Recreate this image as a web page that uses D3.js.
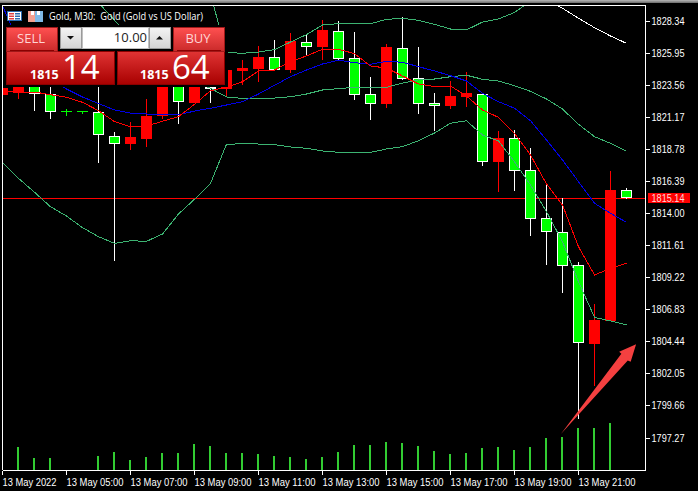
<!DOCTYPE html>
<meta charset="utf-8">
<style>
html, body { margin: 0; padding: 0; background: #000; overflow: hidden; }
svg { display: block; }
.axis text { fill: #fff; font: 11px "Liberation Sans", sans-serif; }
.axis line, .axis path { stroke: #fff; shape-rendering: crispEdges; }
.band { fill: none; stroke-width: 1; shape-rendering: crispEdges; }
.panel text { font-family: "Open Sans", sans-serif; }
</style>
<svg width="698" height="491"></svg>
<script src="https://d3js.org/d3.v7.min.js"></script>
<script>
// M30 bars of 13 May 2022, 03:00 to 22:30
const hours = d3.range(3, 23, 0.5);
const opens = [1822.86,1823.01,1824.13,1822.93,1821.63,1821.63,1821.59,1819.80,1819.20,1819.57,1821.29,1824.35,1822.26,1823.45,1823.30,1824.65,1824.80,1825.69,1824.72,1826.81,1826.44,1827.63,1825.62,1822.93,1822.19,1826.36,1824.13,1822.26,1822.04,1822.71,1822.93,1817.86,1819.65,1817.26,1813.68,1812.64,1810.18,1804.28,1806.00,1815.77];
const highs = [1823.98,1824.35,1824.72,1823.98,1821.81,1821.63,1824.35,1820.10,1820.84,1822.56,1824.72,1824.72,1824.72,1824.72,1824.72,1825.47,1826.51,1826.96,1827.48,1827.41,1828.45,1828.38,1827.56,1824.20,1826.66,1828.68,1826.44,1823.01,1823.90,1824.57,1822.93,1820.17,1820.25,1818.90,1816.14,1815.17,1810.40,1807.27,1817.19,1815.92];
const lows = [1822.86,1822.56,1821.66,1821.07,1821.29,1821.44,1817.75,1810.47,1818.75,1818.98,1821.07,1820.69,1822.26,1822.26,1822.71,1823.60,1823.83,1824.72,1824.50,1825.77,1825.47,1825.47,1822.48,1820.99,1821.89,1823.98,1821.44,1820.17,1821.81,1821.96,1817.56,1815.62,1815.70,1812.34,1810.18,1808.09,1798.69,1801.15,1806.00,1815.10];
const closes = [1823.38,1823.98,1822.93,1821.59,1821.63,1821.63,1819.91,1819.20,1819.72,1821.29,1824.35,1822.30,1824.35,1823.27,1824.72,1824.87,1825.69,1824.72,1826.89,1826.44,1827.71,1825.54,1822.86,1822.19,1826.44,1824.05,1822.19,1822.04,1822.78,1823.01,1817.86,1819.65,1817.22,1813.61,1812.60,1810.10,1804.36,1806.07,1815.77,1815.14];
const volumes = [0,230,120,120,0,0,140,180,100,130,170,170,260,240,170,170,160,140,130,110,130,180,250,250,280,270,240,190,160,170,220,230,200,230,320,330,420,420,470,0];

const fastMa = [1823.16,1823.08,1823.08,1822.88,1822.69,1822.31,1821.69,1820.87,1820.49,1820.54,1820.90,1821.24,1822.16,1823.18,1823.43,1823.85,1824.65,1824.72,1825.34,1825.77,1826.27,1826.27,1825.94,1825.02,1824.87,1824.27,1823.68,1823.48,1823.53,1822.78,1821.74,1821.19,1820.00,1818.38,1816.22,1814.65,1811.54,1809.43,1809.93,1810.30];
const slowMa = [1829.50,1826.81,1825.32,1824.13,1823.30,1822.71,1822.22,1821.74,1821.51,1821.44,1821.40,1821.37,1821.66,1821.87,1822.11,1822.36,1822.93,1823.58,1824.22,1824.72,1825.17,1825.45,1825.27,1825.15,1825.37,1825.30,1824.97,1824.65,1824.30,1823.90,1822.98,1822.36,1821.87,1820.94,1819.50,1818.01,1816.39,1814.78,1814.03,1813.36];
const lowerBand = [1817.84,1816.64,1815.60,1814.52,1813.83,1812.96,1812.29,1811.79,1811.99,1811.94,1812.49,1813.98,1815.08,1816.27,1819.18,1819.22,1819.20,1819.15,1818.98,1818.88,1818.68,1818.58,1818.58,1818.58,1818.83,1819.00,1819.45,1820.02,1820.75,1820.94,1819.87,1819.43,1817.88,1816.14,1814.15,1811.91,1808.93,1806.27,1806.00,1805.70];
const middleBand = [null,null,null,null,null,null,null,null,null,null,null,null,1823.75,1823.36,1822.71,1822.60,1822.58,1822.63,1822.73,1822.93,1823.23,1823.33,1823.43,1823.43,1823.43,1823.75,1823.98,1824.05,1824.22,1824.33,1824.03,1823.90,1823.55,1823.13,1822.56,1821.81,1820.67,1819.75,1819.25,1818.66];
const upperBand = [null,null,null,null,null,null,null,null,null,null,null,null,null,1830.35,1826.03,1825.97,1826.06,1826.24,1826.81,1827.36,1828.08,1828.18,1828.18,1828.18,1828.50,1828.58,1828.43,1828.13,1827.78,1827.71,1828.30,1828.53,1829.01,1829.87,null,null,null,null,null,null];
const earlyBand = [null,null,null,null,null,null,1829.74,1828.44,1827.11,null,null,null,null,null,null,null,null,null,null,null,null,null,null,null,null,null,null,null,null,null,null,null,null,null,null,null,null,null,null,null];
const whiteBand = [null,null,null,null,null,null,null,null,null,null,null,null,null,null,null,null,null,null,null,null,null,null,null,null,null,null,null,null,null,null,null,null,null,null,1829.94,1829.33,1828.58,1827.88,1827.26,1826.71];

const priceTicks = [1828.34,1825.95,1823.56,1821.17,1818.78,1816.39,1814.00,1811.61,1809.22,1806.83,1804.44,1802.05,1799.66,1797.27];
const timeTicks = [3,5,7,9,11,13,15,17,19,21];
const timeLabels = ["13 May 2022","13 May 05:00","13 May 07:00","13 May 09:00","13 May 11:00","13 May 13:00","13 May 15:00","13 May 17:00","13 May 19:00","13 May 21:00"];
const lastPrice = 1815.14;

// hand drawn arrow on the chart
const arrowHours = [20.45,22.34,22.27,22.80,22.63,22.54];
const arrowPrices = [1797.57,1803.55,1803.71,1804.26,1802.96,1803.05];

var svg = d3.select("svg");
var x = d3.scaleLinear().domain([3, 22.5]).range([2.5, 626.5]);
var y = d3.scaleLinear().domain([1797.27, 1828.34]).range([438, 21.5]);
var yVol = d3.scaleLinear().domain([0, 4700]).range([470, 0]);
var ry = function(p) { return Math.round(y(p)); };

svg.append("rect").attr("width", 698).attr("height", 491).attr("fill", "#000");

var defs = svg.append("defs");
defs.append("clipPath").attr("id", "plot").append("rect")
  .attr("x", 3).attr("y", 6).attr("width", 642).attr("height", 464);
function gradient(id, c0, c1) {
  var g = defs.append("linearGradient").attr("id", id).attr("x1", 0).attr("y1", 0).attr("x2", 0).attr("y2", 1);
  g.append("stop").attr("offset", 0).attr("stop-color", c0);
  g.append("stop").attr("offset", 1).attr("stop-color", c1);
}
gradient("chrome", "#b8b8b8", "#6a6a6a");
gradient("btn", "#ff5050", "#c92a2a");
gradient("quote", "#e03434", "#a80000");
gradient("spin", "#f4f4f4", "#d4d4d4");

// window edge above the chart
svg.append("rect").attr("width", 698).attr("height", 3).attr("fill", "url(#chrome)");

var plot = svg.append("g").attr("clip-path", "url(#plot)");

// volumes
plot.selectAll(".vol").data(hours).enter().append("rect")
  .attr("class", "vol")
  .attr("x", function(d) { return x(d) - 1.5; })
  .attr("width", 2)
  .attr("y", function(d, i) { return yVol(volumes[i]); })
  .attr("height", function(d, i) { return 470 - yVol(volumes[i]); })
  .attr("fill", "#32cd32");

// last price line
plot.append("rect")
  .attr("x", 3).attr("width", 642)
  .attr("y", ry(lastPrice)).attr("height", 1)
  .attr("fill", "#f00");

// candles, red is up and green with a white edge is down
var bar = plot.selectAll(".candle").data(hours).enter().append("g").attr("class", "candle");

bar.append("rect")
  .attr("x", function(d) { return x(d) - 0.5; })
  .attr("width", 1)
  .attr("y", function(d, i) { return ry(highs[i]); })
  .attr("height", function(d, i) { return Math.max(ry(lows[i]) - ry(highs[i]), 1); })
  .attr("fill", function(d, i) {
    if (opens[i] === closes[i]) return "#0f0";
    return closes[i] > opens[i] ? "#f00" : "#fff";
  });

bar.append("rect")
  .attr("x", function(d, i) { return closes[i] > opens[i] || opens[i] === closes[i] ? x(d) - 5.5 : x(d) - 5; })
  .attr("width", function(d, i) { return closes[i] > opens[i] || opens[i] === closes[i] ? 11 : 10; })
  .attr("y", function(d, i) {
    var t = ry(Math.max(opens[i], closes[i]));
    return closes[i] < opens[i] ? t + 0.5 : t;
  })
  .attr("height", function(d, i) {
    var h = ry(Math.min(opens[i], closes[i])) - ry(Math.max(opens[i], closes[i]));
    if (opens[i] === closes[i]) return 1;
    return closes[i] < opens[i] ? Math.max(h - 1, 1) : h;
  })
  .attr("fill", function(d, i) { return closes[i] > opens[i] ? "#f00" : "#0f0"; })
  .attr("stroke", function(d, i) { return closes[i] < opens[i] ? "#fff" : "none"; })
  .attr("stroke-width", 1)
  .attr("shape-rendering", "crispEdges");

// indicator lines
var line = d3.line()
  .defined(function(d) { return d != null; })
  .x(function(d, i) { return x(hours[i]); })
  .y(function(d) { return y(d); });

[[lowerBand, "#3cb371"], [middleBand, "#3cb371"], [upperBand, "#3cb371"], [earlyBand, "#3cb371"],
 [whiteBand, "#fff"], [slowMa, "#0000e6"], [fastMa, "#f00"]].forEach(function(s) {
  plot.append("path").attr("class", "band").attr("d", line(s[0])).attr("stroke", s[1]);
});

// arrow
plot.append("path")
  .attr("d", d3.line().x(function(d) { return x(d); }).y(function(d, i) { return y(arrowPrices[i]); }).curve(d3.curveLinearClosed)(arrowHours))
  .attr("fill", "#f44040");

// axes and frame
var yAxis = svg.append("g").attr("class", "axis")
  .attr("transform", "translate(645.5,0)")
  .call(d3.axisRight(y).tickValues(priceTicks).tickSize(4).tickSizeOuter(0).tickPadding(2).offset(0)
    .tickFormat(function(d) { return d.toFixed(2); }));
yAxis.select(".domain").attr("d", "M0,5.5V470.5");
yAxis.selectAll("text").attr("textLength", 33).attr("lengthAdjust", "spacingAndGlyphs");

var xAxis = svg.append("g").attr("class", "axis")
  .attr("transform", "translate(0,470.5)")
  .call(d3.axisBottom(x).tickValues(timeTicks).tickSize(4).tickSizeOuter(0).tickPadding(2).offset(0)
    .tickFormat(function(d, i) { return timeLabels[i]; }));
xAxis.select(".domain").attr("d", "M2.5,0H645.5");
xAxis.selectAll("text")
  .attr("text-anchor", "start").attr("x", 0).attr("dy", "0.85em")
  .attr("textLength", function(d, i) { return i === 0 ? 54 : 57; })
  .attr("lengthAdjust", "spacingAndGlyphs");

svg.append("path").attr("d", "M2.5,470V5.5H645.5").attr("fill", "none").attr("stroke", "#fff")
  .attr("shape-rendering", "crispEdges");

// last price tag
svg.append("rect").attr("x", 648).attr("y", ry(lastPrice) - 5).attr("width", 42).attr("height", 10).attr("fill", "#f00");
svg.append("text").attr("class", "tag")
  .attr("x", 651.5).attr("y", ry(lastPrice) + 4)
  .attr("fill", "#ffd8d8")
  .attr("textLength", 33).attr("lengthAdjust", "spacingAndGlyphs")
  .style("font", "11px 'Liberation Sans', sans-serif")
  .text(lastPrice.toFixed(2));

// title and the two little icons
svg.append("text").attr("x", 49).attr("y", 20).attr("fill", "#fff")
  .style("font", "11.5px 'Open Sans', sans-serif")
  .attr("textLength", 154).attr("lengthAdjust", "spacingAndGlyphs")
  .text("Gold, M30:\u00a0\u00a0Gold (Gold vs US Dollar)");

var icons = svg.append("g");
icons.append("rect").attr("x", 7.5).attr("y", 11.5).attr("width", 14).attr("height", 9).attr("fill", "#fff").attr("stroke", "#2b6cb0");
[[9, 13, "#e04040"], [9, 15.5, "#e04040"], [9, 18, "#e04040"], [15, 13, "#2b6cb0"], [15, 15.5, "#2b6cb0"], [15, 18, "#2b6cb0"]].forEach(function(r) {
  icons.append("rect").attr("x", r[0]).attr("y", r[1]).attr("width", 5).attr("height", 1.5).attr("fill", r[2]);
});
icons.append("rect").attr("x", 28).attr("y", 11).attr("width", 7).attr("height", 11).attr("fill", "#f4a090");
icons.append("rect").attr("x", 35).attr("y", 11).attr("width", 8).attr("height", 11).attr("fill", "#7fb9e6");
icons.append("rect").attr("x", 31).attr("y", 11).attr("width", 3).attr("height", 4).attr("fill", "#fff");
icons.append("rect").attr("x", 37).attr("y", 11).attr("width", 3).attr("height", 4).attr("fill", "#fff");

// trade panel
var panel = svg.append("g").attr("class", "panel");
function box(px, py, w, h, fill, stroke) {
  panel.append("rect").attr("x", px + 0.5).attr("y", py + 0.5).attr("width", w - 1).attr("height", h - 1)
    .attr("fill", fill).attr("stroke", stroke).attr("shape-rendering", "crispEdges");
}
function label(tx, ty, txt, size, fill, weight, anchor) {
  panel.append("text").attr("x", tx).attr("y", ty).attr("fill", fill)
    .attr("font-size", size).attr("font-weight", weight || 400).attr("text-anchor", anchor || "start").text(txt);
}
panel.append("rect").attr("x", 4).attr("y", 25).attr("width", 224).attr("height", 62).attr("fill", "#000");

box(6, 51, 109, 34, "url(#quote)", "#8a0000");
box(117, 51, 108, 34, "url(#quote)", "#8a0000");
box(6, 27, 52, 25, "url(#btn)", "#a01818");
box(173, 27, 52, 25, "url(#btn)", "#a01818");
panel.append("rect").attr("x", 10).attr("y", 50).attr("width", 44).attr("height", 1).attr("fill", "#8a0000");
panel.append("rect").attr("x", 177).attr("y", 50).attr("width", 44).attr("height", 1).attr("fill", "#8a0000");

box(60, 27, 22, 22, "url(#spin)", "#9a9a9a");
box(82, 27, 67, 22, "#fff", "#c0c0c0");
box(149, 27, 22, 22, "url(#spin)", "#9a9a9a");
panel.append("path").attr("d", "M67,36h7l-3.5,3.5z").attr("fill", "#111");
panel.append("path").attr("d", "M156,39.5h7l-3.5,-3.5z").attr("fill", "#111");

label(31, 43, "SELL", 13, "#ffd4d4", 400, "middle");
label(198, 43, "BUY", 13, "#ffd4d4", 400, "middle");
label(147, 42, "10.00", 13, "#222", 400, "end");
label(30, 79, "1815", 12.5, "#fff", 700);
label(62, 79, "14", 33, "#fff", 400);
label(140, 79, "1815", 12.5, "#fff", 700);
label(172, 79, "64", 33, "#fff", 400);
</script>
